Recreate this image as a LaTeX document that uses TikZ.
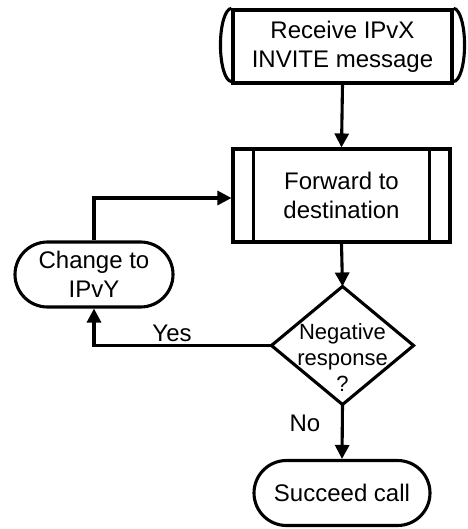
\documentclass[tikz,border=0pt]{standalone}
\usepackage{fontspec}
\setmainfont{Liberation Sans}
\usetikzlibrary{arrows.meta,shapes.misc,calc}
\begin{document}
\begin{tikzpicture}[x=1pt,y=-1pt,
  line width=3.1pt,
  every node/.style={font=\fontsize{24}{29}\selectfont, align=center, inner sep=0pt},
  arr/.style={-{Triangle[length=14pt,width=14pt]}},
  plainbox/.style={rectangle, draw, line width=3.1pt},
  stad/.style={rounded rectangle, draw, line width=3.1pt},
  lbl/.style={font=\fontsize{24}{29}\selectfont}
]
\useasboundingbox (0,0) rectangle (467,529);
% Receive
\node[plainbox, minimum width=219pt, minimum height=73pt] (recv) at (342.5,46.5) {Receive IPvX\\INVITE message};
\draw (recv.north west) arc[start angle=90, end angle=270, x radius=11pt, y radius=36.5pt];
\draw (recv.north east) arc[start angle=90, end angle=-90, x radius=11pt, y radius=36.5pt];
% Forward
\node[plainbox, minimum width=217pt, minimum height=93pt] (fwd) at (341.5,195.5) {Forward to\\destination};
\draw ($(fwd.north west)+(22,0)$) -- ($(fwd.south west)+(22,0)$);
\draw ($(fwd.north east)+(-22,0)$) -- ($(fwd.south east)+(-22,0)$);
% Decision
\node[minimum width=139pt, minimum height=115pt] (neg) at (342.5,345.5) {};
\draw (neg.north) -- (neg.east) -- (neg.south) -- (neg.west) -- cycle;
\node[font=\fontsize{22}{26}\selectfont] (negt) at (342.5,358) {Negative\\response\\?};
% Change
\node[stad, minimum width=158pt, minimum height=65pt] (chg) at (94,274.5) {Change to\\IPvY};
% Succeed
\node[stad, minimum width=176pt, minimum height=65pt] (succ) at (342,493) {Succeed call};
% connectors
\draw[arr] (recv.south) -- (fwd.north);
\draw[arr] (fwd.south) -- (neg.north);
\draw[arr] (neg.south) -- (succ.north);
\draw[arr] (neg.west) -| (chg.south);
\coordinate (corner) at (94,198);
\draw[arr] (chg.north) -- (corner) -- (fwd.west |- corner);
% labels
\node[lbl] (yes) at (172,333) {Yes};
\node[lbl] (no) at (305,423) {No};
\end{tikzpicture}
\end{document}
